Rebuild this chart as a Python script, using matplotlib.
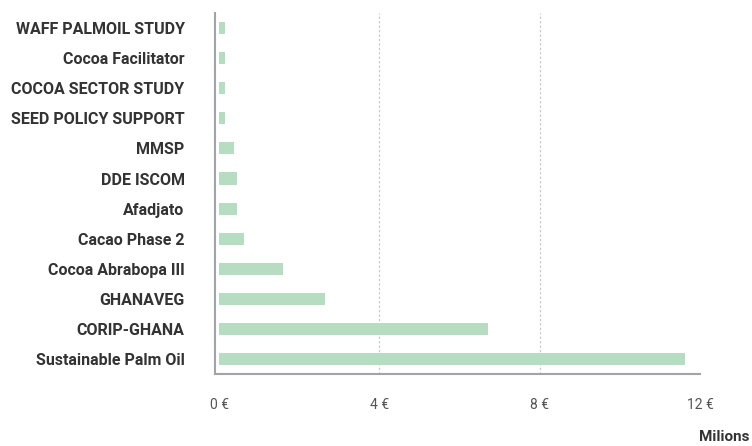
import matplotlib.pyplot as plt

projects = ["WAFF PALMOIL STUDY", "Cocoa Facilitator", "COCOA SECTOR STUDY",
            "SEED POLICY SUPPORT", "MMSP", "DDE ISCOM", "Afadjato", "Cacao Phase 2",
            "Cocoa Abrabopa III", "GHANAVEG", "CORIP-GHANA", "Sustainable Palm Oil"]
budget = [0.15, 0.15, 0.15, 0.15, 0.37, 0.45, 0.45, 0.62, 1.6, 2.64, 6.71, 11.62]
ticks = [0, 4, 8, 12]
tick_labels = ["0 €", "4 €", "8 €", "12 €"]

plt.rcParams['font.family'] = ['Roboto', 'DejaVu Sans']

fig = plt.figure(figsize=(7.52, 4.46), dpi=100)
ax = fig.add_axes([0.286, 0.161, 0.645, 0.81])

ypos = list(range(len(projects)))
ax.barh(ypos, budget, height=0.4, color='#b6ddc1', zorder=3)
ax.set_ylim(len(projects) - 0.5, -0.5)
ax.set_xlim(-0.1, 12)

ax.set_yticks(ypos)
ax.set_yticklabels(projects, fontsize=11.5, fontweight='bold', color='#333333')
ax.set_xticks(ticks)
ax.set_xticklabels(tick_labels, fontsize=10, color='#555555')
ax.tick_params(axis='y', length=0, pad=22)
ax.tick_params(axis='x', length=0, pad=17)

ax.grid(axis='x', linestyle=(0, (2, 2)), color='#c4c4c4', linewidth=0.8, zorder=0)
ax.xaxis.get_gridlines()[0].set_visible(False)

for s in ['top', 'right']:
    ax.spines[s].set_visible(False)
for s in ['left', 'bottom']:
    ax.spines[s].set_color('#a0a4a8')
    ax.spines[s].set_linewidth(1.5)

fig.text(0.997, 0.005, "Milions", ha='right', va='bottom', fontsize=11,
         fontweight='bold', color='#333333')

fig.savefig('out.png', dpi=100)
